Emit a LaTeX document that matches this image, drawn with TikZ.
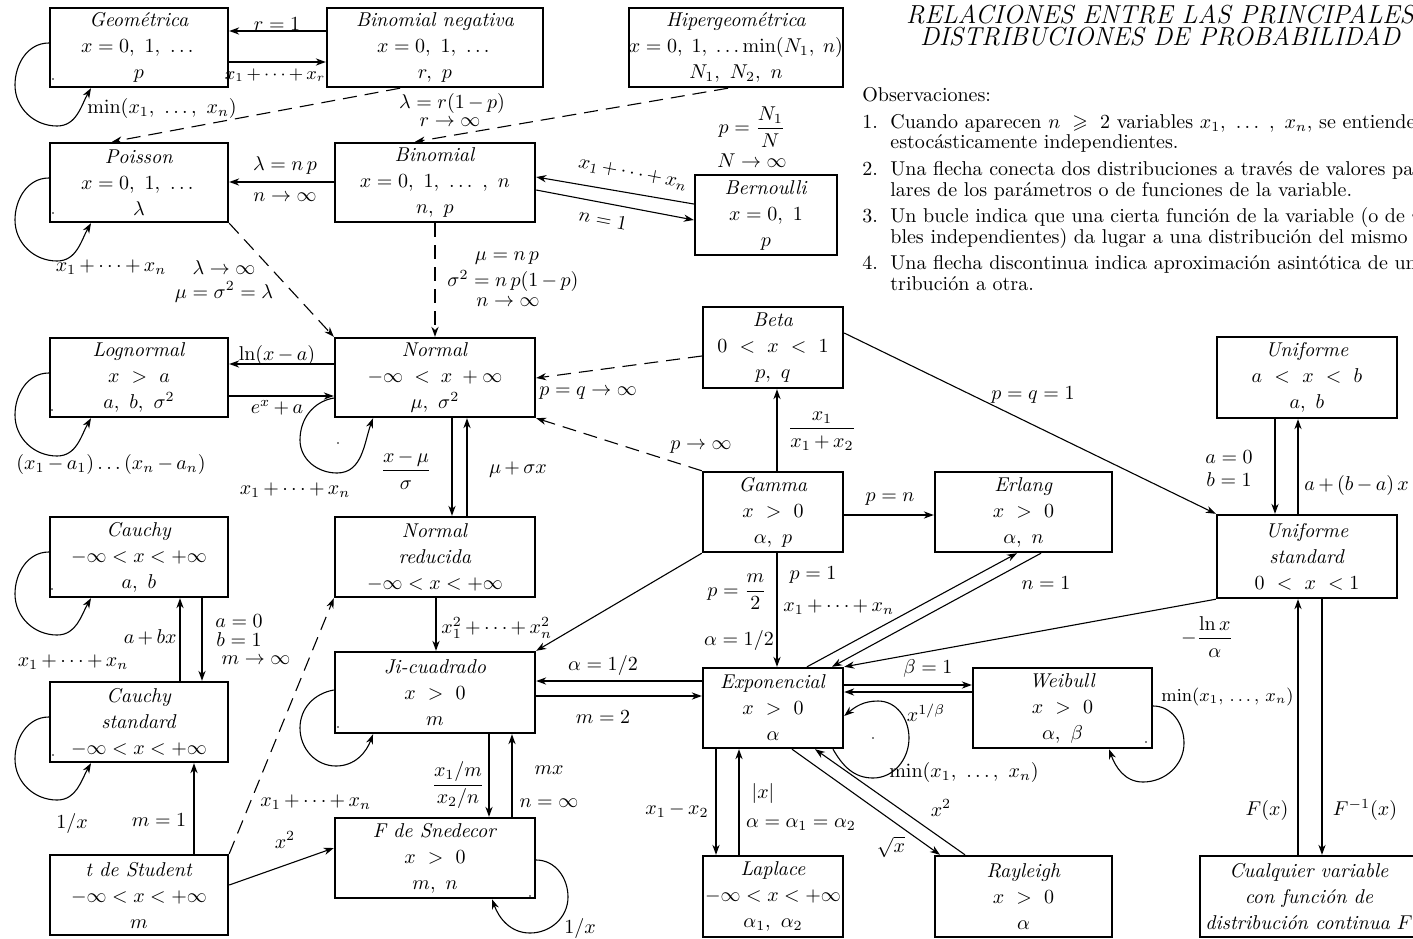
\documentclass[tikz,border=0pt]{standalone}
\usepackage{amsmath,amssymb}
\usetikzlibrary{arrows.meta}
\newcommand{\tightmath}{\medmuskip=3mu\relax}
\tikzset{
 dbox/.style={draw, line width=1.2pt, inner sep=0pt, align=center, font=\fontsize{10}{13}\selectfont},
 lbl/.style={inner sep=0.5pt, font=\fontsize{10}{12}\selectfont\tightmath},
 slbl/.style={inner sep=0.5pt, font=\fontsize{9}{11}\selectfont\tightmath},
 arr/.style={line width=0.55pt, -{Stealth[length=5pt,width=3.6pt,inset=1.6pt]}},
 dsh/.style={arr, dash pattern=on 7pt off 4pt},
 obs/.style={anchor=base west, inner sep=0pt, font=\fontsize{10}{12}\selectfont},
 ttl/.style={anchor=base, inner sep=0pt, font=\fontsize{13}{11}\selectfont\itshape}
}
\newcommand{\dbox}[6]{\node[dbox, minimum width={(#4-#2)*0.5pt}, minimum height={(#5-#3)*0.5pt}] (#1) at ({(#2+#4)/2},{(#3+#5)/2}) {#6};}
\newcommand{\rline}{$-\infty<x<+\infty$}
\begin{document}
\begin{tikzpicture}[x=0.5pt,y=-0.5pt]
\useasboundingbox (0,0) rectangle (1413,938);
\clip (0,0) rectangle (1413,938);
% ---------- boxes
\dbox{geo}{50}{8}{228}{87}{\textit{Geométrica}\\$x=0,\ 1,\ \dots$\\$p$}
\dbox{bneg}{327}{8}{543}{87}{\textit{Binomial negativa}\\$x=0,\ 1,\ \dots$\\$r,\ p$}
\dbox{hiper}{635}{8}{837}{87}{\textit{Hipergeométrica}\\$x=0,\;1,\;\dots\min(N_1,\;n)$\\$N_1,\ N_2,\ n$}
\dbox{pois}{50}{143}{228}{222}{\textit{Poisson}\\$x=0,\ 1,\ \dots$\\$\lambda$}
\dbox{binom}{335}{143}{535}{222}{\textit{Binomial}\\$x=0,\ 1,\ \dots\ ,\ n$\\$n,\ p$}
\dbox{bern}{695}{175}{837}{255}{\textit{Bernoulli}\\$x=0,\ 1$\\$p$}
\dbox{logn}{50}{338}{228}{417}{\textit{Lognormal}\\$x\ >\ a$\\$a,\ b,\ \sigma^2$}
\dbox{norm}{335}{338}{535}{417}{\textit{Normal}\\$-\infty\;<\;x\;+\infty$\\$\mu,\ \sigma^2$}
\dbox{beta}{703}{307}{843}{388}{\textit{Beta}\\$0\ <\ x\ <\ 1$\\$p,\ q$}
\dbox{unif}{1217}{337}{1397}{418}{\textit{Uniforme}\\$a\ <\ x\ <\ b$\\$a,\ b$}
\dbox{cau}{50}{517}{228}{597}{\textit{Cauchy}\\\rline\\$a,\ b$}
\dbox{nred}{335}{517}{535}{597}{\textit{Normal}\\\textit{reducida}\\\rline}
\dbox{gam}{703}{472}{843}{552}{\textit{Gamma}\\$x\ >\ 0$\\$\alpha,\ p$}
\dbox{erl}{935}{472}{1112}{552}{\textit{Erlang}\\$x\ >\ 0$\\$\alpha,\ n$}
\dbox{ustd}{1217}{515}{1397}{598}{\textit{Uniforme}\\\textit{standard}\\$0\ <\ x\ <1$}
\dbox{caus}{50}{682}{228}{762}{\textit{Cauchy}\\\textit{standard}\\\rline}
\dbox{ji}{335}{652}{535}{733}{\textit{Ji-cuadrado}\\$x\ >\ 0$\\$m$}
\dbox{expo}{703}{668}{843}{748}{\textit{Exponencial}\\$x\ >\ 0$\\$\alpha$}
\dbox{weib}{973}{668}{1152}{748}{\textit{Weibull}\\$x\ >\ 0$\\$\alpha,\ \beta$}
\dbox{fsn}{335}{818}{535}{898}{\textit{F de Snedecor}\\$x\ >\ 0$\\$m,\ n$}
\dbox{tst}{50}{855}{228}{935}{\textit{t de Student}\\\rline\\$m$}
\dbox{lap}{703}{856}{843}{937}{\textit{Laplace}\\\rline\\$\alpha_1,\ \alpha_2$}
\dbox{ray}{935}{856}{1112}{937}{\textit{Rayleigh}\\$x\ >\ 0$\\$\alpha$}
\dbox{cual}{1200}{856}{1418}{937}{\textit{Cualquier variable}\\\textit{con función de}\\\textit{distribución continua $F$}}
% ---------- connectors
\draw[arr] (bneg.west |- 0,31) -- (geo.east |- 0,31);
\draw[arr] (geo.east |- 0,62) -- (bneg.west |- 0,62);
\draw[dsh] (400,0 |- bneg.south) -- (112,0 |- pois.north);
\draw[dsh] (728,0 |- hiper.south) -- (415,0 |- binom.north);
\draw[arr] (binom.west |- 0,182) -- (pois.east |- 0,182);
\draw[arr] (bern.west |- 0,204) -- (binom.east |- 0,177);
\draw[arr] (binom.east |- 0,190) -- (bern.west |- 0,220);
\draw[dsh] (pois.south east) -- (norm.north west);
\draw[dsh] (binom.south) -- (norm.north);
\draw[arr] (norm.west |- 0,364) -- (logn.east |- 0,364);
\draw[arr] (logn.east |- 0,396) -- (norm.west |- 0,396);
\draw[arr] (452,0 |- norm.south) -- (452,0 |- nred.north);
\draw[arr] (467,0 |- nred.north) -- (467,0 |- norm.south);
\draw[dsh] (beta.west |- 0,356) -- (norm.east |- 0,378);
\draw[dsh] (gam.north west) -- (norm.south east);
\draw[arr] (777,0 |- gam.north) -- (777,0 |- beta.south);
\draw[arr] (beta.east |- 0,333) -- (ustd.north west);
\draw[arr] (1275,0 |- unif.south) -- (1275,0 |- ustd.north);
\draw[arr] (1298,0 |- ustd.north) -- (1298,0 |- unif.south);
\draw[arr] (gam.east |- 0,515) -- (erl.west |- 0,515);
\draw[arr] (gam.south west) -- (ji.north east);
\draw[arr] (777,0 |- gam.south) -- (777,0 |- expo.north);
\draw[arr] (807,0 |- expo.north) -- (1017,0 |- erl.south);
\draw[arr] (1041,0 |- erl.south) -- (832,0 |- expo.north);
\draw[arr] (ustd.south west) -- (expo.north east);
\draw[arr] (expo.east |- 0,685) -- (weib.west |- 0,685);
\draw[arr] (weib.west |- 0,692) -- (expo.east |- 0,692);
\draw[arr] (expo.west |- 0,681) -- (ji.east |- 0,681);
\draw[arr] (ji.east |- 0,696) -- (expo.west |- 0,696);
\draw[arr] (436,0 |- nred.south) -- (436,0 |- ji.north);
\draw[arr] (489,0 |- ji.south) -- (489,0 |- fsn.north);
\draw[arr] (512,0 |- fsn.north) -- (512,0 |- ji.south);
\draw[arr] (716,0 |- expo.south) -- (716,0 |- lap.north);
\draw[arr] (739,0 |- lap.north) -- (739,0 |- expo.south);
\draw[arr] (792,0 |- expo.south) -- (940,0 |- ray.north);
\draw[arr] (965,0 |- ray.north) -- (815,0 |- expo.south);
\draw[arr] (1298,0 |- cual.north) -- (1298,0 |- ustd.south);
\draw[arr] (1322,0 |- ustd.south) -- (1322,0 |- cual.north);
\draw[dsh] (tst.north east) -- (nred.south west);
\draw[arr] (180,0 |- caus.north) -- (180,0 |- cau.south);
\draw[arr] (202,0 |- cau.south) -- (202,0 |- caus.north);
\draw[arr] (194,0 |- tst.north) -- (194,0 |- caus.south);
\draw[arr] (tst.east |- 0,885) -- (fsn.west |- 0,848);
% ---------- loops
\draw[arr] (geo.west |- 0,43) to[out=180,in=90] (15,85) to[out=-90,in=180] (57,126) to[out=0,in=-120] (91,0 |- geo.south);
\draw[arr] (pois.west |- 0,178) to[out=180,in=90] (15,220) to[out=-90,in=180] (57,261) to[out=0,in=-120] (91,0 |- pois.south);
\draw[arr] (logn.west |- 0,373) to[out=180,in=90] (15,415) to[out=-90,in=180] (57,456) to[out=0,in=-120] (91,0 |- logn.south);
\draw[arr] (cau.west |- 0,552) to[out=180,in=90] (15,594) to[out=-90,in=180] (57,635) to[out=0,in=-120] (91,0 |- cau.south);
\draw[arr] (caus.west |- 0,717) to[out=180,in=90] (15,759) to[out=-90,in=180] (57,800) to[out=0,in=-120] (91,0 |- caus.south);
\draw[arr] (norm.west |- 0,398) to[out=190,in=90] (300,440) to[out=-90,in=180] (337,473) to[out=0,in=-110] (373,0 |- norm.south);
\draw[arr] (ji.west |- 0,690) to[out=190,in=90] (300,728) to[out=-90,in=180] (336,766) to[out=0,in=-110] (373,0 |- ji.south);
\draw[arr] (833,0 |- expo.south) to[out=-60,in=180] (873,778) to[out=0,in=-90] (909,738) to[out=90,in=0] (878,701) to[out=180,in=40] (expo.east |- 0,716);
\draw[arr] (weib.east |- 0,706) to[out=0,in=90] (1184,743) to[out=-90,in=0] (1143,782) to[out=180,in=-70] (1109,0 |- weib.south);
\draw[arr] (fsn.east |- 0,860) to[out=0,in=90] (568,897) to[out=-90,in=0] (530,933) to[out=180,in=-70] (492,0 |- fsn.south);
% ---------- small marks
\foreach \p in {(53,79),(53,213),(52,410),(52,589),(53,755),(338,443),(338,727),(873,738),(1146,742),(530,896)}
  \fill \p circle[radius=0.45pt];
% ---------- labels
\node[lbl] (l1) at (277,24) {$r=1$};
\node[slbl] (l2) at (275,75) {$x_1+\cdots+x_r$};
\node[lbl,anchor=west] (l3) at (86,108) {$\min(x_1,\ \dots,\ x_n)$};
\node[lbl] (l4) at (452,103) {$\lambda=r(1-p)$};
\node[lbl] (l5) at (450,122) {$r\to\infty$};
\node[lbl] (l6) at (752,127) {$p=\dfrac{N_1}{N}$};
\node[lbl] (l7) at (752,161) {$N\to\infty$};
\node[lbl] (l8) at (285,165) {$\lambda=n\,p$};
\node[lbl] (l9) at (285,197) {$n\to\infty$};
\node[lbl,rotate=-11] (l10) at (633,174) {$x_1+\cdots+x_n$};
\node[lbl,rotate=-11] (l11) at (603,219) {$n=1$};
\node[lbl] (l12) at (111,267) {$x_1+\cdots+x_n$};
\node[lbl] (l13) at (224,268) {$\lambda\to\infty$};
\node[lbl] (l14) at (224,292) {$\mu=\sigma^2=\lambda$};
\node[lbl] (l15) at (507,258) {$\mu=n\,p$};
\node[lbl,anchor=west] (l16) at (446,281) {$\sigma^2=n\,p(1-p)$};
\node[lbl] (l17) at (508,302) {$n\to\infty$};
\node[lbl] (l18) at (277,355) {$\ln(x-a)$};
\node[lbl] (l19) at (277,408) {$e^x+a$};
\node[lbl] (l20) at (111,464) {$(x_1-a_1)\dots(x_n-a_n)$};
\node[lbl] (l21) at (295,490) {$x_1+\cdots+x_n$};
\node[lbl] (l22) at (406,470) {$\dfrac{x-\mu}{\sigma}$};
\node[lbl] (l23) at (518,470) {$\mu+\sigma x$};
\node[lbl,anchor=west] (l24) at (538,393) {$p=q\to\infty$};
\node[lbl] (l25) at (701,447) {$p\to\infty$};
\node[lbl] (l26) at (822,431) {$\dfrac{x_1}{x_1+x_2}$};
\node[lbl] (l27) at (1033,395) {$p=q=1$};
\node[lbl] (l28a) at (1229,457) {$a=0$};
\node[lbl] (l28b) at (1229,480) {$b=1$};
\node[lbl,anchor=west] (l29) at (1303,485) {$a+(b-a)\,x$};
\node[lbl] (l30) at (890,499) {$p=n$};
\node[lbl] (l31) at (737,592) {$p=\dfrac{m}{2}$};
\node[lbl] (l32) at (739,640) {$\alpha=1/2$};
\node[lbl] (l33) at (813,575) {$p=1$};
\node[lbl,anchor=west] (l34) at (782,607) {$x_1+\cdots+x_n$};
\node[lbl] (l35) at (1046,583) {$n=1$};
\node[lbl] (l36) at (1207,637) {$-\dfrac{\ln x}{\alpha}$};
\node[lbl] (l37) at (73,662) {$x_1+\cdots+x_n$};
\node[lbl,anchor=east] (l38) at (178,637) {$a+bx$};
\node[lbl] (l39a) at (239,621) {$a=0$};
\node[lbl] (l39b) at (239,640) {$b=1$};
\node[lbl] (l40) at (256,660) {$m\to\infty$};
\node[lbl,anchor=west] (l41) at (440,628) {$x_1^2+\cdots+x_n^2$};
\node[lbl] (l42) at (603,665) {$\alpha=1/2$};
\node[lbl] (l43) at (603,717) {$m=2$};
\node[lbl] (l44) at (928,668) {$\beta=1$};
\node[lbl] (l45) at (926,713) {$x^{1/\beta}$};
\node[slbl,anchor=west] (l46) at (1160,697) {$\min(x_1,\,\dots,\,x_n)$};
\node[lbl] (l47) at (964,772) {$\min(x_1,\ \dots,\ x_n)$};
\node[lbl] (l48) at (458,785) {$\dfrac{x_1/m}{x_2/n}$};
\node[lbl] (l49) at (549,770) {$mx$};
\node[lbl] (l50) at (549,803) {$n=\infty$};
\node[lbl] (l51) at (677,810) {$x_1-x_2$};
\node[lbl] (l52) at (763,793) {$|x|$};
\node[lbl] (l53) at (801,825) {$\alpha=\alpha_1=\alpha_2$};
\node[lbl] (l54) at (941,808) {$x^2$};
\node[lbl] (l55) at (891,847) {$\sqrt{x}$};
\node[lbl] (l56) at (1267,810) {$F(x)$};
\node[lbl] (l57) at (1365,810) {$F^{-1}(x)$};
\node[lbl,anchor=west] (l58) at (259,802) {$x_1+\cdots+x_n$};
\node[lbl] (l59) at (72,823) {$1/x$};
\node[lbl] (l60) at (159,820) {$m=1$};
\node[lbl] (l61) at (285,840) {$x^2$};
\node[lbl] (l62) at (580,928) {$1/x$};
% ---------- title and notes
\node[ttl] (t1) at (1160,23) {RELACIONES ENTRE LAS PRINCIPALES};
\node[ttl] (t2) at (1160,45) {DISTRIBUCIONES DE PROBABILIDAD};
\node[obs] (o0) at (862,101) {Observaciones:};
\node[obs] (o1n) at (862,128) {1.};
\node[obs] (o1a) at (890,128) {Cuando aparecen $n\ \geqslant\ 2$ variables $x_1,\ \dots\ ,\ x_n$, se entiende que};
\node[obs] (o1b) at (890,148) {estocásticamente independientes.};
\node[obs] (o2n) at (862,175) {2.};
\node[obs] (o2a) at (890,175) {Una flecha conecta dos distribuciones a través de valores particu-};
\node[obs] (o2b) at (890,196) {lares de los parámetros o de funciones de la variable.};
\node[obs] (o3n) at (862,222) {3.};
\node[obs] (o3a) at (890,222) {Un bucle indica que una cierta función de la variable (o de $n$ varia-};
\node[obs] (o3b) at (890,243) {bles independientes) da lugar a una distribución del mismo tipo.};
\node[obs] (o4n) at (862,269) {4.};
\node[obs] (o4a) at (890,269) {Una flecha discontinua indica aproximación asintótica de una dis-};
\node[obs] (o4b) at (890,290) {tribución a otra.};
\end{tikzpicture}
\end{document}
